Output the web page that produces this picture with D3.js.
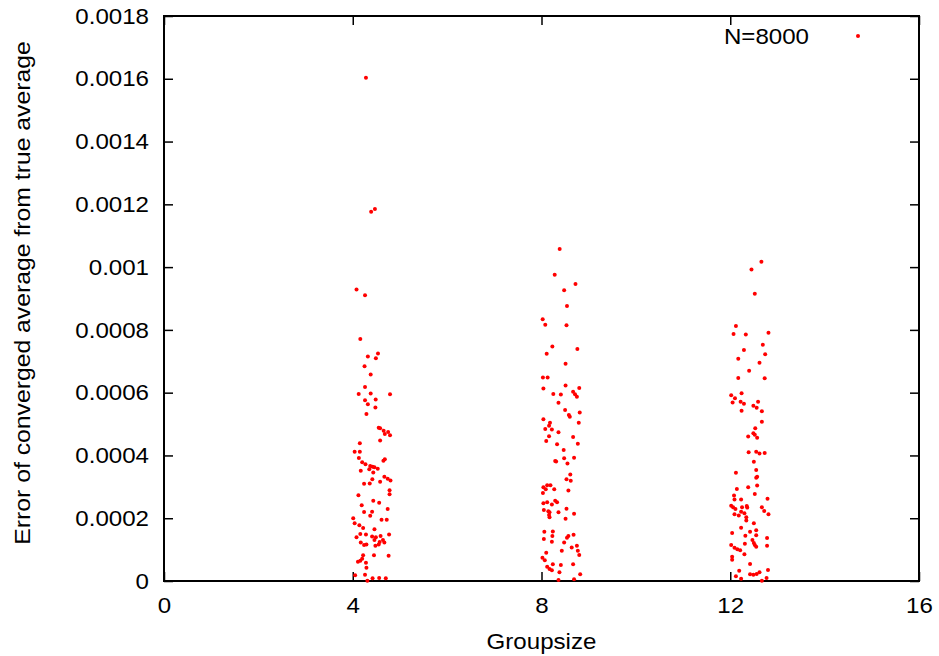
<!DOCTYPE html>
<html><head><meta charset="utf-8">
<script src="https://cdn.jsdelivr.net/npm/d3@7"></script>
<style>html,body{margin:0;padding:0;background:#fff;}svg{display:block;}</style>
</head><body>
<svg id="c" width="939" height="656"></svg>
<script>
const seriesName = "N=8000";
const xLabel = "Groupsize";
const yLabel = "Error of converged average from true average";
const xTicks = [0, 4, 8, 12, 16];
const yTicks = [0, 0.0002, 0.0004, 0.0006, 0.0008, 0.001, 0.0012, 0.0014, 0.0016, 0.0018];
const yTickLabels = ["0", "0.0002", "0.0004", "0.0006", "0.0008", "0.001", "0.0012", "0.0014", "0.0016", "0.0018"];

const g4x = [4.28,4.47,4.39,4.08,4.26,4.16,4.535,4.32,4.49,4.25,4.38,4.26,4.126,4.38,4.79,4.26,4.486,4.32,4.48,4.29,4.55,4.58,4.655,4.75,4.68,4.79,4.58,4.15,4.04,4.15,4.13,4.68,4.65,4.20,4.27,4.37,4.42,4.46,4.53,4.17,4.435,4.35,4.67,4.74,4.80,4.415,4.58,4.24,4.36,4.78,4.78,4.12,4.435,4.56,4.19,4.74,4.24,4.41,4.37,4.01,4.61,4.72,4.04,4.14,4.22,4.46,4.16,4.28,4.77,4.41,4.49,4.59,4.08,4.46,4.64,4.17,4.57,4.67,4.29,4.24,4.55,4.48,4.76,4.22,4.45,4.20,4.11,4.16,4.28,4.29,4.05,4.26,4.42,4.56,4.70,4.31];
const g4y = [0.001603,0.001185,0.001176,0.000929,0.000910,0.000771,0.000725,0.000715,0.000710,0.000684,0.000658,0.000618,0.000596,0.000597,0.000595,0.000576,0.000578,0.000563,0.000553,0.000532,0.000488,0.000487,0.000479,0.000475,0.000468,0.000464,0.000448,0.000439,0.000412,0.000412,0.000392,0.000388,0.000383,0.000378,0.000372,0.000366,0.000364,0.000362,0.000358,0.000351,0.000346,0.000356,0.000332,0.000326,0.000320,0.000324,0.000316,0.000310,0.000311,0.000289,0.000276,0.000273,0.000256,0.000249,0.000241,0.000229,0.000220,0.000221,0.000208,0.000200,0.000195,0.000195,0.000184,0.000178,0.000169,0.000165,0.000150,0.000148,0.000148,0.000142,0.000139,0.000143,0.000139,0.000131,0.000131,0.000123,0.000124,0.000123,0.000116,0.000115,0.000116,0.000112,0.0000806,0.0000819,0.0000819,0.0000711,0.0000615,0.0000647,0.0000583,0.0000424,0.0000182,0.0000201,0.0000086,0.0000096,0.0000086,0.0000010];

const g8x = [8.385,8.28,8.72,8.48,8.54,8.025,8.08,8.53,8.23,8.76,8.11,8.51,8.03,8.13,8.51,8.04,8.80,8.67,8.71,8.75,8.25,8.41,8.36,8.50,8.58,8.60,8.81,8.04,8.79,8.18,8.16,8.08,8.22,8.36,8.16,8.67,8.10,8.77,8.33,8.47,8.69,8.48,8.29,8.31,8.55,8.61,8.53,8.62,8.12,8.19,8.04,8.09,8.27,8.57,8.03,8.29,8.33,8.04,8.12,8.22,8.53,8.05,8.145,8.17,8.36,8.69,8.16,8.17,8.51,8.06,8.24,8.68,8.57,8.54,8.05,8.23,8.22,8.48,8.75,8.64,8.77,8.80,8.43,8.10,8.02,8.07,8.24,8.12,8.17,8.22,8.41,8.67,8.38,8.82,8.36,8.69];
const g8y = [0.001058,0.000976,0.000946,0.000926,0.000876,0.000834,0.000816,0.000815,0.000747,0.000739,0.000724,0.000692,0.000648,0.000648,0.000623,0.000613,0.000615,0.000603,0.000595,0.000587,0.000596,0.000594,0.000568,0.000545,0.000529,0.000523,0.000537,0.000515,0.000504,0.000504,0.000495,0.000484,0.000483,0.000474,0.000461,0.000459,0.000446,0.000437,0.000436,0.000417,0.000393,0.000391,0.000382,0.000381,0.000374,0.000339,0.000324,0.000319,0.000305,0.000305,0.000299,0.000292,0.000292,0.000288,0.000280,0.000256,0.000251,0.000248,0.000251,0.000244,0.000230,0.000226,0.000222,0.000219,0.000219,0.000214,0.000210,0.000203,0.000198,0.000157,0.000158,0.000147,0.000143,0.000138,0.000134,0.000143,0.000125,0.000123,0.000112,0.000107,0.0000965,0.0000828,0.0000965,0.0000902,0.0000742,0.0000659,0.0000532,0.0000456,0.0000382,0.0000341,0.0000510,0.0000532,0.0000277,0.0000213,0.0000032,0.0000054];

const g12x = [12.66,12.45,12.52,12.12,12.07,12.81,12.33,12.69,12.29,12.74,12.17,12.62,12.40,12.17,12.73,12.24,12.02,12.10,12.05,12.22,12.29,12.59,12.49,12.56,12.67,12.24,12.67,12.53,12.49,12.52,12.38,12.57,12.39,12.55,12.62,12.73,12.50,12.12,12.55,12.55,12.57,12.14,12.38,12.57,12.52,12.08,12.09,12.23,12.79,12.02,12.06,12.11,12.35,12.36,12.25,12.67,12.72,12.81,12.23,12.30,12.09,12.18,12.34,12.34,12.50,12.23,12.55,12.42,12.04,12.55,12.32,12.78,12.47,12.02,12.31,12.50,12.52,12.55,12.78,12.09,12.15,12.21,12.30,12.04,12.04,12.42,12.19,12.80,12.42,12.49,12.56,12.62,12.12,12.23,12.77,12.67];
const g12y = [0.001017,0.000992,0.000915,0.000812,0.000787,0.000791,0.000785,0.000753,0.000736,0.000722,0.000708,0.000695,0.000670,0.000647,0.000646,0.000598,0.000592,0.000582,0.000569,0.000571,0.000565,0.000571,0.000558,0.000552,0.000541,0.000542,0.000507,0.000487,0.000471,0.000466,0.000460,0.000456,0.000410,0.000412,0.000406,0.000408,0.000380,0.000345,0.000354,0.000329,0.000332,0.000293,0.000299,0.000304,0.000277,0.000272,0.000260,0.000260,0.000262,0.000240,0.000235,0.000229,0.000239,0.000234,0.000235,0.000235,0.000223,0.000213,0.000221,0.000216,0.000213,0.000209,0.000203,0.000193,0.000184,0.000170,0.000162,0.000157,0.000153,0.000146,0.000144,0.000137,0.000131,0.000115,0.000119,0.000121,0.000115,0.000109,0.000112,0.000106,0.000101,0.0000978,0.0000851,0.0000774,0.0000679,0.0000542,0.0000328,0.0000350,0.0000213,0.0000201,0.0000223,0.0000277,0.0000150,0.0000073,0.0000096,0.0000005];

const groups = [[g4x, g4y], [g8x, g8y], [g12x, g12y]];
const points = groups.flatMap(([xs, ys]) => xs.map((x, i) => ({x, y: ys[i]})));

const svg = d3.select("#c");
const L = 164, R = 919, T = 16, B = 581;
const x = d3.scaleLinear().domain([0, 16]).range([L, R]);
const y = d3.scaleLinear().domain([0, 0.0018]).range([B, T]);
const font = "'Liberation Sans', Arial, sans-serif";
const fs = 22.5;
const tickLen = 9;

function stretch(sel, k) {
  sel.each(function () {
    const len = this.getComputedTextLength();
    if (len > 0) d3.select(this).attr("textLength", len * k).attr("lengthAdjust", "spacingAndGlyphs");
  });
}

// ticks (inward, mirrored)
const gx = svg.append("g").attr("transform", `translate(0,${B})`)
  .call(d3.axisBottom(x).tickValues(xTicks).tickSizeInner(-tickLen).tickSizeOuter(0).tickPadding(tickLen + 7).tickFormat(d3.format("d")));
const gxt = svg.append("g").attr("transform", `translate(0,${T})`)
  .call(d3.axisTop(x).tickValues(xTicks).tickSizeInner(-tickLen).tickSizeOuter(0).tickFormat(""));
const gy = svg.append("g").attr("transform", `translate(${L},0)`)
  .call(d3.axisLeft(y).tickValues(yTicks).tickSizeInner(-tickLen).tickSizeOuter(0).tickPadding(tickLen + 6).tickFormat((d, i) => yTickLabels[i]));
const gyr = svg.append("g").attr("transform", `translate(${R},0)`)
  .call(d3.axisRight(y).tickValues(yTicks).tickSizeInner(-tickLen).tickSizeOuter(0).tickFormat(""));
[gx, gxt, gy, gyr].forEach(g => {
  g.select(".domain").remove();
  g.selectAll("line").attr("stroke", "#000").attr("stroke-width", 1.5);
  g.selectAll("text").attr("font-family", font).attr("font-size", fs).attr("fill", "#000");
});
stretch(gx.selectAll("text"), 1.07);
stretch(gy.selectAll("text"), 1.07);

// frame
svg.append("rect").attr("x", L).attr("y", T).attr("width", R - L).attr("height", B - T)
  .attr("fill", "none").attr("stroke", "#000").attr("stroke-width", 2);

// points
svg.append("g").selectAll("circle").data(points).join("circle")
  .attr("cx", d => x(d.x)).attr("cy", d => y(d.y)).attr("r", 2).attr("fill", "#ff0000");

// axis labels
const xl = svg.append("text").attr("x", (L + R) / 2).attr("y", 649).attr("text-anchor", "middle")
  .attr("font-family", font).attr("font-size", fs).text(xLabel);
stretch(xl, 1.07);
const yl = svg.append("text").attr("transform", `translate(30,293) rotate(-90)`).attr("text-anchor", "middle")
  .attr("font-family", font).attr("font-size", fs).text(yLabel);
stretch(yl, 1.1);

// legend
const lg = svg.append("text").attr("x", 809).attr("y", 44).attr("text-anchor", "end")
  .attr("font-family", font).attr("font-size", fs).text(seriesName);
stretch(lg, 1.07);
svg.append("circle").attr("cx", 858).attr("cy", 36).attr("r", 2).attr("fill", "#ff0000");
</script>
</body></html>
